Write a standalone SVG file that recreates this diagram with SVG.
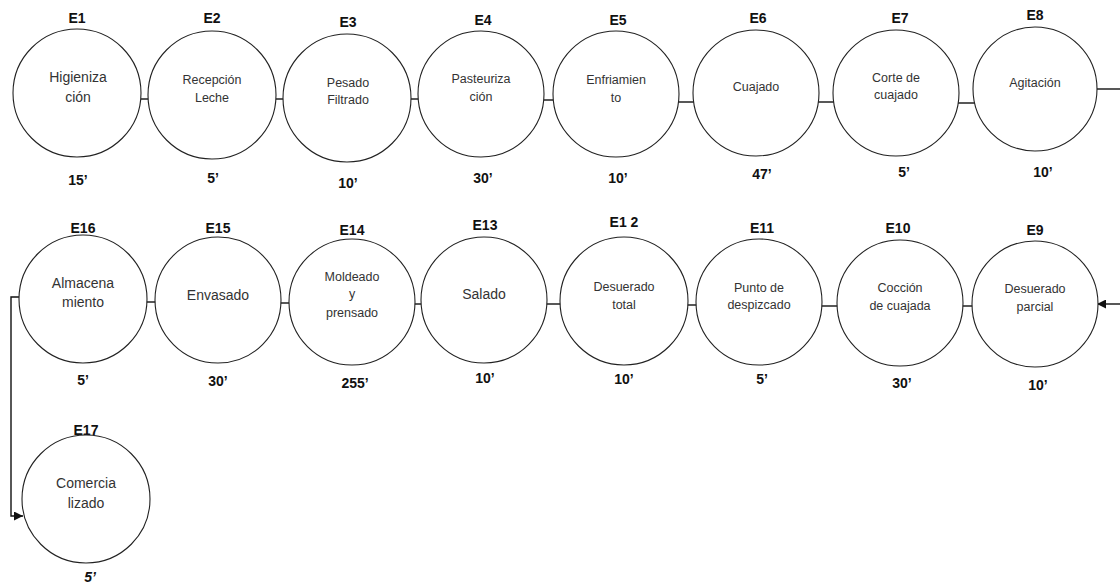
<svg xmlns="http://www.w3.org/2000/svg" width="1120" height="583" viewBox="0 0 1120 583">
<defs>
<style>
.c{fill:#fff;stroke:#222;stroke-width:1.1}
.t{font-family:"Liberation Sans",Arial,sans-serif;font-size:12.5px;fill:#333;text-anchor:middle}
.tl{font-family:"Liberation Sans",Arial,sans-serif;font-size:14px;fill:#333;text-anchor:middle}
.h{font-family:"Liberation Sans",Arial,sans-serif;font-size:14px;font-weight:bold;fill:#111;text-anchor:middle}
.k{stroke:#111;stroke-width:1.4;fill:none}
</style>
<marker id="ah" viewBox="0 0 10 10" refX="10" refY="5" markerWidth="10" markerHeight="9" markerUnits="userSpaceOnUse" orient="auto">
<path d="M0,0 L10,5 L0,10 z" fill="#111"/>
</marker>
</defs>
<g id="connectors">
<line class="k" x1="141" y1="99" x2="148" y2="99"/>
<line class="k" x1="276" y1="99" x2="284" y2="99"/>
<line class="k" x1="410" y1="99" x2="419" y2="99"/>
<line class="k" x1="543" y1="100" x2="554" y2="100"/>
<line class="k" x1="678" y1="102" x2="694" y2="102"/>
<line class="k" x1="818" y1="102" x2="834" y2="102"/>
<line class="k" x1="958" y1="103" x2="975" y2="103"/>
<line class="k" x1="1096" y1="89" x2="1120" y2="89"/>
<line class="k" x1="1120" y1="304" x2="1097" y2="304" marker-end="url(#ah)"/>
<line class="k" x1="961" y1="306" x2="974" y2="306"/>
<line class="k" x1="821" y1="306" x2="839" y2="306"/>
<line class="k" x1="685" y1="305" x2="697" y2="305"/>
<line class="k" x1="546" y1="304" x2="562" y2="304"/>
<line class="k" x1="414" y1="304" x2="421" y2="304"/>
<line class="k" x1="280" y1="303" x2="290" y2="303"/>
<line class="k" x1="146" y1="302" x2="156" y2="302"/>
<polyline class="k" points="19,297 11,297 11,516 23,516" marker-end="url(#ah)"/>
</g>
<g id="E1"><text class="h" x="77" y="23">E1</text><circle class="c" cx="77" cy="93" r="64"/><text class="tl" x="78" y="82">Higieniza</text><text class="tl" x="78" y="102">ción</text><text class="h" x="78" y="185">15’</text></g>
<g id="E2"><text class="h" x="212" y="23">E2</text><circle class="c" cx="212" cy="95" r="64"/><text class="t" x="212" y="84">Recepción</text><text class="t" x="212" y="102">Leche</text><text class="h" x="213" y="183">5’</text></g>
<g id="E3"><text class="h" x="348" y="27">E3</text><circle class="c" cx="347" cy="98" r="64"/><text class="t" x="348" y="87">Pesado</text><text class="t" x="348" y="104">Filtrado</text><text class="h" x="348" y="188">10’</text></g>
<g id="E4"><text class="h" x="483" y="25">E4</text><circle class="c" cx="481" cy="94" r="63"/><text class="t" x="481" y="83">Pasteuriza</text><text class="t" x="481" y="101">ción</text><text class="h" x="483" y="183">30’</text></g>
<g id="E5"><text class="h" x="618" y="25">E5</text><circle class="c" cx="616" cy="94" r="63"/><text class="t" x="616" y="84">Enfriamien</text><text class="t" x="616" y="102">to</text><text class="h" x="618" y="183">10’</text></g>
<g id="E6"><text class="h" x="758" y="23">E6</text><circle class="c" cx="756" cy="93" r="63"/><text class="t" x="756" y="91">Cuajado</text><text class="h" x="762" y="179">47’</text></g>
<g id="E7"><text class="h" x="900" y="23">E7</text><circle class="c" cx="896" cy="93" r="63"/><text class="t" x="896" y="82">Corte de</text><text class="t" x="896" y="99">cuajado</text><text class="h" x="904" y="177">5’</text></g>
<g id="E8"><text class="h" x="1035" y="20">E8</text><circle class="c" cx="1035" cy="89" r="62"/><text class="t" x="1035" y="87">Agitación</text><text class="h" x="1043" y="177">10’</text></g>
<g id="E9"><text class="h" x="1035" y="235">E9</text><circle class="c" cx="1035" cy="304" r="63"/><text class="t" x="1035" y="293">Desuerado</text><text class="t" x="1035" y="311">parcial</text><text class="h" x="1038" y="390">10’</text></g>
<g id="E10"><text class="h" x="898" y="233">E10</text><circle class="c" cx="900" cy="303" r="63"/><text class="t" x="900" y="292">Cocción</text><text class="t" x="900" y="310">de cuajada</text><text class="h" x="902" y="388">30’</text></g>
<g id="E11"><text class="h" x="762" y="233">E11</text><circle class="c" cx="759" cy="302" r="63"/><text class="t" x="759" y="292">Punto de</text><text class="t" x="759" y="309">despizcado</text><text class="h" x="762" y="384">5’</text></g>
<g id="E12"><text class="h" x="624" y="227">E1 2</text><circle class="c" cx="624" cy="301" r="64"/><text class="t" x="624" y="291">Desuerado</text><text class="t" x="624" y="309">total</text><text class="h" x="624" y="384">10’</text></g>
<g id="E13"><text class="h" x="485" y="230">E13</text><circle class="c" cx="484" cy="300" r="63"/><text class="tl" x="484" y="299">Salado</text><text class="h" x="485" y="383">10’</text></g>
<g id="E14"><text class="h" x="352" y="235">E14</text><circle class="c" cx="352" cy="302" r="63"/><text class="t" x="352" y="281">Moldeado</text><text class="t" x="352" y="298">y</text><text class="t" x="352" y="317">prensado</text><text class="h" x="355" y="388">255’</text></g>
<g id="E15"><text class="h" x="218" y="233">E15</text><circle class="c" cx="218" cy="300" r="63"/><text class="tl" x="218" y="300">Envasado</text><text class="h" x="218" y="386">30’</text></g>
<g id="E16"><text class="h" x="83" y="233">E16</text><circle class="c" cx="83" cy="299" r="64"/><text class="tl" x="83" y="288">Almacena</text><text class="tl" x="83" y="307">miento</text><text class="h" x="83" y="385">5’</text></g>
<g id="E17"><text class="h" x="86" y="435">E17</text><circle class="c" cx="86" cy="499" r="64"/><text class="tl" x="86" y="488">Comercia</text><text class="tl" x="86" y="508">lizado</text><text class="h" x="90" y="582" font-style="italic">5’</text></g>
</svg>
